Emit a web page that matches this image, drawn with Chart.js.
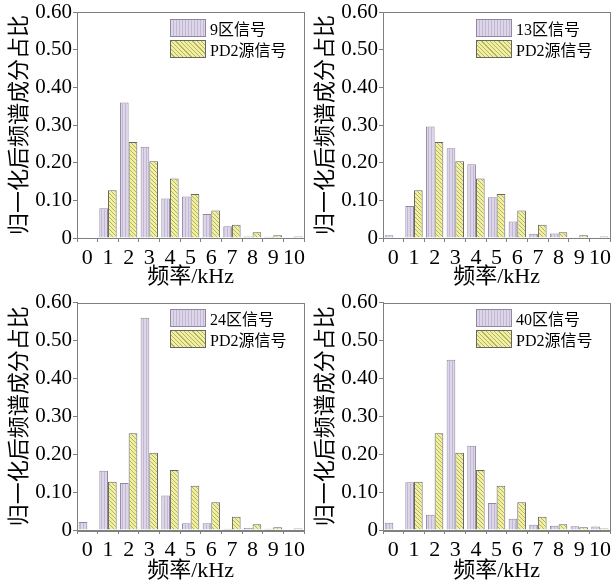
<!DOCTYPE html>
<html>
<head>
<meta charset="utf-8">
<script src="https://cdn.jsdelivr.net/npm/chart.js@4/dist/chart.umd.min.js"></script>
<style>
  body { margin: 0; background: #fff; width: 616px; height: 585px; position: relative; overflow: hidden; }
  .panel { position: absolute; }
  .panel canvas { position: absolute; left: 0; top: 0; }
  .legend { position: absolute; font-family: "Liberation Serif", "Noto Sans CJK SC", serif; font-size: 16px; color: #000; }
  .legend .row { display: flex; align-items: center; height: 19px; margin-bottom: 2px; }
  .legend .sw { width: 36px; height: 18px; margin-right: 4px; box-sizing: border-box; }
  .sw.purple { border: 1px solid #9088a0; background: repeating-linear-gradient(90deg, #ddd6e8 0 2px, #c3b8d3 2px 3px); }
  .sw.yellow { border: 1px solid #666; background: repeating-linear-gradient(45deg, #f0f0a0 0 2px, #b4b464 2px 3px); }
</style>
</head>
<body>
<script>
  // 横轴：频率 (kHz)
  const freqLabels = ["0", "1", "2", "3", "4", "5", "6", "7", "8", "9", "10"];

  // PD2 源信号（四幅图相同）
  const pd2Values = [0, 0.127, 0.255, 0.204, 0.158, 0.117, 0.073, 0.035, 0.015, 0.007, 0.004];

  // 各区信号
  const zone9Values = [0.002, 0.079, 0.360, 0.242, 0.105, 0.110, 0.064, 0.031, 0.004, 0.003, 0.002];
  const zone13Values = [0.007, 0.085, 0.296, 0.238, 0.196, 0.108, 0.044, 0.011, 0.012, 0.002, 0.002];
  const zone24Values = [0.021, 0.156, 0.124, 0.560, 0.091, 0.018, 0.018, 0.003, 0.005, 0.003, 0.002];
  const zone40Values = [0.019, 0.126, 0.040, 0.449, 0.222, 0.071, 0.030, 0.014, 0.011, 0.010, 0.009];

  const zoneNames = ["9区信号", "13区信号", "24区信号", "40区信号"];
  const pd2Name = "PD2源信号";
  const yTitle = "归一化后频谱成分占比";
  const xTitle = "频率/kHz";

  const FONT = '"Liberation Serif", "Noto Sans CJK SC", serif';
  const AXIS = "#808080";

  // hatch patterns
  function stripePattern() {
    const c = document.createElement("canvas");
    c.width = 3; c.height = 3;
    const g = c.getContext("2d");
    g.fillStyle = "#ddd6e8"; g.fillRect(0, 0, 3, 3);
    g.fillStyle = "#c3b8d3"; g.fillRect(2, 0, 1, 3);
    return g.createPattern(c, "repeat");
  }
  function hatchPattern() {
    const c = document.createElement("canvas");
    c.width = 4; c.height = 4;
    const g = c.getContext("2d");
    g.fillStyle = "#f0f0a0"; g.fillRect(0, 0, 4, 4);
    g.fillStyle = "#b4b464";
    for (let i = 0; i < 4; i++) g.fillRect(i, i, 1, 1);
    return g.createPattern(c, "repeat");
  }

  const framePlugin = {
    id: "frame",
    afterDraw(chart) {
      const a = chart.chartArea, ctx = chart.ctx;
      ctx.save();
      ctx.strokeStyle = AXIS;
      ctx.lineWidth = 1;
      ctx.strokeRect(Math.round(a.left) + 0.5, Math.round(a.top) + 0.5,
        Math.round(a.right - a.left), Math.round(a.bottom - a.top));
      ctx.restore();
    }
  };

  function makePanel(left, top, h, plotTop, plotBottom, zoneName, values) {
    const W = 310;
    const div = document.createElement("div");
    div.className = "panel";
    div.style.left = left + "px";
    div.style.top = top + "px";
    div.style.width = W + "px";
    div.style.height = h + "px";
    const cv = document.createElement("canvas");
    cv.width = W; cv.height = h;
    cv.style.width = W + "px"; cv.style.height = h + "px";
    div.appendChild(cv);
    document.body.appendChild(div);

    const chart = new Chart(cv, {
      type: "bar",
      data: {
        labels: freqLabels,
        datasets: [
          { label: zoneName, data: values, backgroundColor: stripePattern(), borderColor: "#9088a0", borderWidth: 1 },
          { label: pd2Name, data: pd2Values, backgroundColor: hatchPattern(), borderColor: "#666", borderWidth: 1 }
        ]
      },
      options: {
        responsive: false,
        animation: false,
        devicePixelRatio: 1,
        layout: { padding: { left: 4, right: 2, top: plotTop, bottom: 0 } },
        datasets: { bar: { categoryPercentage: 0.84, barPercentage: 1.0 } },
        plugins: { legend: { display: false }, tooltip: { enabled: false } },
        scales: {
          x: {
            afterFit: s => { s.height = h - plotBottom; },
            grid: { display: true, drawOnChartArea: false, tickLength: 4, color: AXIS, offset: true },
            border: { color: AXIS },
            ticks: { color: "#000", padding: 5, maxRotation: 0, autoSkip: false, font: { family: FONT, size: 22, lineHeight: 1 } },
            title: { display: true, text: xTitle, color: "#000", padding: { top: 0, bottom: 3 }, font: { family: FONT, size: 22, lineHeight: 1 } }
          },
          y: {
            min: 0, max: 0.6,
            afterFit: s => { s.width = 73; },
            grid: { display: true, drawOnChartArea: false, tickLength: 4, color: AXIS },
            border: { color: AXIS },
            ticks: {
              stepSize: 0.05, color: "#000", padding: 1,
              font: { family: FONT, size: 21, lineHeight: 1 },
              callback: (v, i) => (i % 2 ? "" : (i === 0 ? "0" : (i * 0.05).toFixed(2)))
            },
            title: { display: true, text: yTitle, color: "#000", padding: { top: 4, bottom: 0 }, font: { family: FONT, size: 22, lineHeight: 1.1 } }
          }
        }
      },
      plugins: [framePlugin]
    });

    // legend inside plot, top right
    const a = chart.chartArea;
    const lg = document.createElement("div");
    lg.className = "legend";
    lg.style.left = (a.left + 93) + "px";
    lg.style.top = (a.top + 6) + "px";
    lg.innerHTML =
      '<div class="row"><div class="sw purple"></div><span>' + zoneName + '</span></div>' +
      '<div class="row"><div class="sw yellow"></div><span>' + pd2Name + '</span></div>';
    div.appendChild(lg);
  }

  makePanel(0, 0, 291, 12, 238, zoneNames[0], zone9Values);
  makePanel(306, 0, 291, 12, 238, zoneNames[1], zone13Values);
  makePanel(0, 291, 294, 11, 239, zoneNames[2], zone24Values);
  makePanel(306, 291, 294, 11, 239, zoneNames[3], zone40Values);
</script>
</body>
</html>
